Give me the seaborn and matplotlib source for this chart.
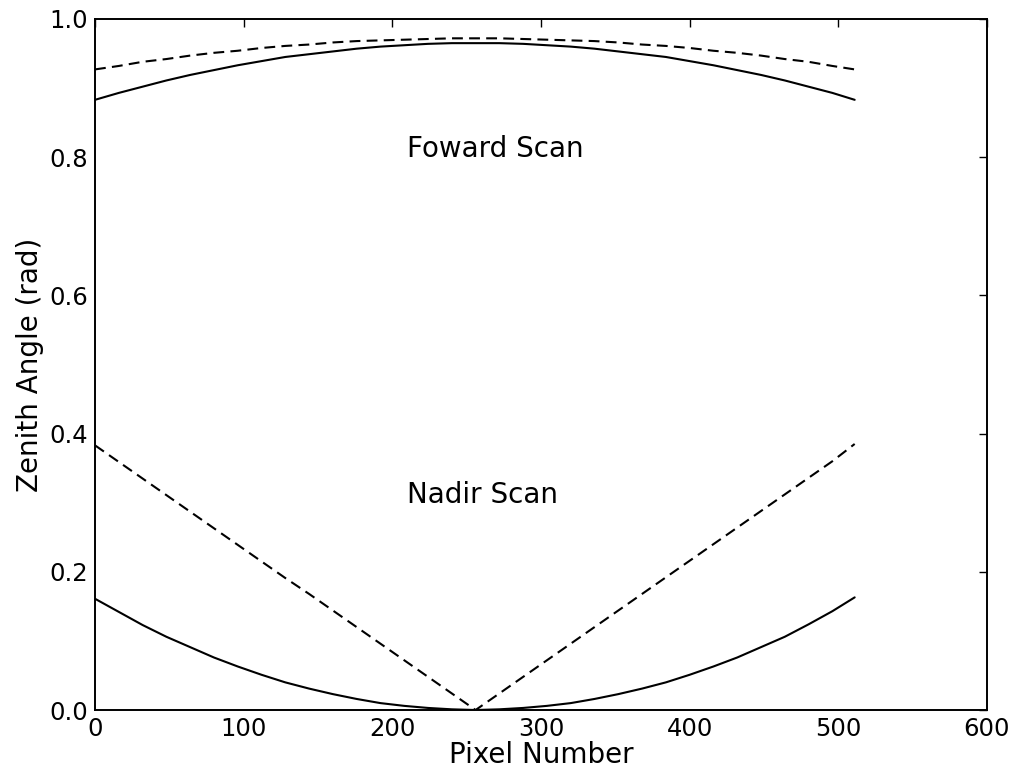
import numpy as np
import pandas as pd
import matplotlib
matplotlib.use("Agg")
import matplotlib.pyplot as plt
import seaborn as sns

# Detector pixel positions along the scan line
pixels = [0, 16, 32, 48, 64, 80, 96, 112, 128, 144, 160, 176, 192, 208, 224, 240, 256,
          272, 288, 304, 320, 336, 352, 368, 384, 400, 416, 432, 448, 464, 480, 496, 511]

# Zenith angle (rad) per pixel for each scan geometry
forward_solid = [0.883, 0.893, 0.902, 0.911, 0.919, 0.926, 0.933, 0.939, 0.945,
                 0.949, 0.953, 0.957, 0.960, 0.962, 0.964, 0.965, 0.965,
                 0.965, 0.964, 0.962, 0.960, 0.957, 0.953, 0.949, 0.945,
                 0.939, 0.933, 0.926, 0.919, 0.911, 0.902, 0.893, 0.883]
forward_dashed = [0.927, 0.932, 0.938, 0.942, 0.947, 0.951, 0.954, 0.958, 0.961,
                  0.963, 0.966, 0.968, 0.969, 0.970, 0.971, 0.972, 0.972,
                  0.972, 0.971, 0.970, 0.969, 0.968, 0.966, 0.963, 0.961,
                  0.958, 0.954, 0.951, 0.947, 0.942, 0.938, 0.932, 0.927]
nadir_solid = [0.161, 0.142, 0.123, 0.106, 0.091, 0.076, 0.063, 0.051, 0.040,
               0.031, 0.023, 0.016, 0.010, 0.006, 0.003, 0.001, 0.000,
               0.001, 0.003, 0.006, 0.010, 0.016, 0.023, 0.031, 0.040,
               0.051, 0.063, 0.076, 0.091, 0.106, 0.124, 0.143, 0.163]
nadir_dashed = [0.383, 0.359, 0.335, 0.311, 0.287, 0.263, 0.239, 0.215, 0.191,
                0.168, 0.144, 0.120, 0.096, 0.072, 0.048, 0.024, 0.000,
                0.024, 0.048, 0.072, 0.096, 0.120, 0.144, 0.168, 0.192,
                0.216, 0.240, 0.264, 0.288, 0.312, 0.336, 0.360, 0.385]

x_ticks = [0, 100, 200, 300, 400, 500, 600]
y_ticks = [0.0, 0.2, 0.4, 0.6, 0.8, 1.0]

sns.set_style("white")
plt.rcParams.update({
    "font.family": ["DejaVu Sans"],
    "font.size": 20,
    "text.color": "black",
    "axes.labelcolor": "black",
    "xtick.color": "black",
    "ytick.color": "black",
    "xtick.direction": "in",
    "ytick.direction": "in",
    "xtick.top": True,
    "ytick.right": True,
    "xtick.major.size": 5.8,
    "ytick.major.size": 5.8,
    "xtick.major.width": 1.0,
    "ytick.major.width": 1.0,
    "xtick.major.pad": 5,
    "ytick.major.pad": 5,
    "axes.linewidth": 1.4,
    "axes.edgecolor": "black",
})

fig = plt.figure(figsize=(10.15, 7.71), dpi=100)
ax = fig.add_axes([0.0936, 0.0791, 0.9724 - 0.0936, 0.9754 - 0.0791])

series = [
    (forward_solid, "-"),
    (forward_dashed, "--"),
    (nadir_solid, "-"),
    (nadir_dashed, "--"),
]
for values, style in series:
    df = pd.DataFrame({"pixel": pixels, "zenith": values})
    sns.lineplot(data=df, x="pixel", y="zenith", ax=ax, color="black",
                 linewidth=1.5, estimator=None, sort=False)
    line = ax.lines[-1]
    line.set_linestyle(style)
    if style == "--":
        line.set_dashes((5.2, 3.0))

ax.text(210, 0.8, "Foward Scan", fontsize=20, color="black")
ax.text(210, 0.3, "Nadir Scan", fontsize=20, color="black")

ax.set_xlim(0, 600)
ax.set_ylim(0, 1.0)
ax.set_xticks(x_ticks)
ax.set_yticks(y_ticks)
ax.set_yticklabels([f"{t:.1f}" for t in y_ticks])
ax.tick_params(labelsize=17.5)
ax.set_xlabel("Pixel Number", fontsize=20, labelpad=0)
ax.set_ylabel("Zenith Angle (rad)", fontsize=20, labelpad=4)
for sp in ax.spines.values():
    sp.set_visible(True)

fig.savefig("out.png", dpi=100)
